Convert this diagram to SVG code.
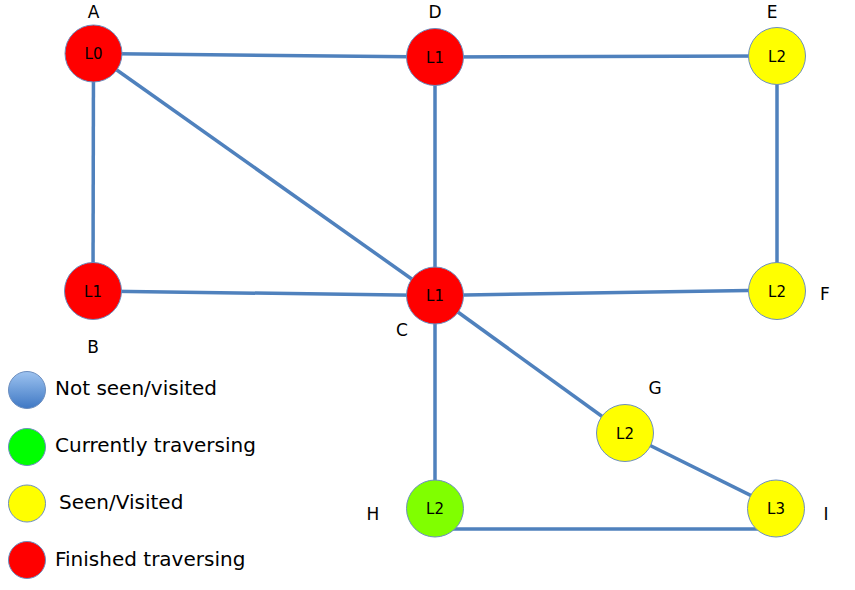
<svg xmlns="http://www.w3.org/2000/svg" width="855" height="590" viewBox="0 0 855 590">
  <style>
    .edge { stroke: #4f81bd; stroke-width: 3.5; fill: none; }
    .node { stroke: #6c8ebf; stroke-width: 1; }
    .red { fill: #ff0000; }
    .yellow { fill: #ffff00; }
    .lime { fill: #80ff00; }
    .green { fill: #00ff00; }
    .lvl { font-family: "DejaVu Sans", "Liberation Sans", sans-serif; font-size: 15px; fill: #000; text-anchor: middle; }
    .name { font-family: "DejaVu Sans", "Liberation Sans", sans-serif; font-size: 17px; fill: #000; text-anchor: middle; }
    .legend { font-family: "DejaVu Sans", "Liberation Sans", sans-serif; font-size: 20px; fill: #000; }
  </style>
  <defs>
    <linearGradient id="blueFill" x1="0" y1="0" x2="0" y2="1">
      <stop offset="0" stop-color="#9dc3f0"/>
      <stop offset="1" stop-color="#3f78c4"/>
    </linearGradient>
  </defs>
  <rect width="855" height="590" fill="#ffffff"/>

  <g id="connectors">
    <line class="edge" x1="93.5" y1="53.5" x2="435" y2="57"/>
    <line class="edge" x1="435" y1="57" x2="777" y2="56"/>
    <line class="edge" x1="777" y1="56" x2="777" y2="292"/>
    <line class="edge" x1="93.5" y1="53.5" x2="93" y2="291"/>
    <line class="edge" x1="93.5" y1="53.5" x2="435" y2="295.5"/>
    <line class="edge" x1="435" y1="57" x2="435" y2="295.5"/>
    <line class="edge" x1="93" y1="291" x2="435" y2="295.5"/>
    <line class="edge" x1="435" y1="295.5" x2="777" y2="290"/>
    <line class="edge" x1="435" y1="295.5" x2="625" y2="433"/>
    <line class="edge" x1="435" y1="295.5" x2="435" y2="508"/>
    <line class="edge" x1="625" y1="433" x2="776" y2="508"/>
    <line class="edge" x1="435" y1="529" x2="776" y2="529"/>
  </g>

  <g id="node-A">
    <circle class="node red" cx="93.5" cy="53.5" r="28.5"/>
    <text class="lvl" x="93.5" y="59">L0</text>
    <text class="name" x="93.5" y="18">A</text>
  </g>
  <g id="node-D">
    <circle class="node red" cx="435" cy="57" r="28.5"/>
    <text class="lvl" x="435" y="62.5">L1</text>
    <text class="name" x="435" y="18">D</text>
  </g>
  <g id="node-E">
    <circle class="node yellow" cx="777" cy="56" r="28.5"/>
    <text class="lvl" x="777" y="61.5">L2</text>
    <text class="name" x="772" y="18">E</text>
  </g>
  <g id="node-B">
    <circle class="node red" cx="93" cy="291" r="28.5"/>
    <text class="lvl" x="93" y="296.5">L1</text>
    <text class="name" x="93" y="353">B</text>
  </g>
  <g id="node-C">
    <circle class="node red" cx="435" cy="295.5" r="28.5"/>
    <text class="lvl" x="435" y="301">L1</text>
    <text class="name" x="402" y="336">C</text>
  </g>
  <g id="node-F">
    <circle class="node yellow" cx="777" cy="291" r="28.5"/>
    <text class="lvl" x="777" y="296.5">L2</text>
    <text class="name" x="825" y="300">F</text>
  </g>
  <g id="node-G">
    <circle class="node yellow" cx="625" cy="433" r="28.5"/>
    <text class="lvl" x="625" y="438.5">L2</text>
    <text class="name" x="655" y="394">G</text>
  </g>
  <g id="node-H">
    <circle class="node lime" cx="435" cy="508.5" r="28.5"/>
    <text class="lvl" x="435" y="514">L2</text>
    <text class="name" x="373" y="520">H</text>
  </g>
  <g id="node-I">
    <circle class="node yellow" cx="776" cy="508.5" r="28.5"/>
    <text class="lvl" x="776" y="514">L3</text>
    <text class="name" x="826" y="520">I</text>
  </g>

  <g id="legend">
    <circle class="node" cx="27" cy="390" r="18.5" fill="url(#blueFill)"/>
    <text class="legend" x="55" y="395">Not seen/visited</text>
    <circle class="node green" cx="27" cy="447" r="18.5"/>
    <text class="legend" x="55" y="452">Currently traversing</text>
    <circle class="node yellow" cx="27" cy="503.5" r="18.5"/>
    <text class="legend" x="59" y="509">Seen/Visited</text>
    <circle class="node red" cx="27" cy="560" r="18.5"/>
    <text class="legend" x="55" y="566">Finished traversing</text>
  </g>
</svg>
